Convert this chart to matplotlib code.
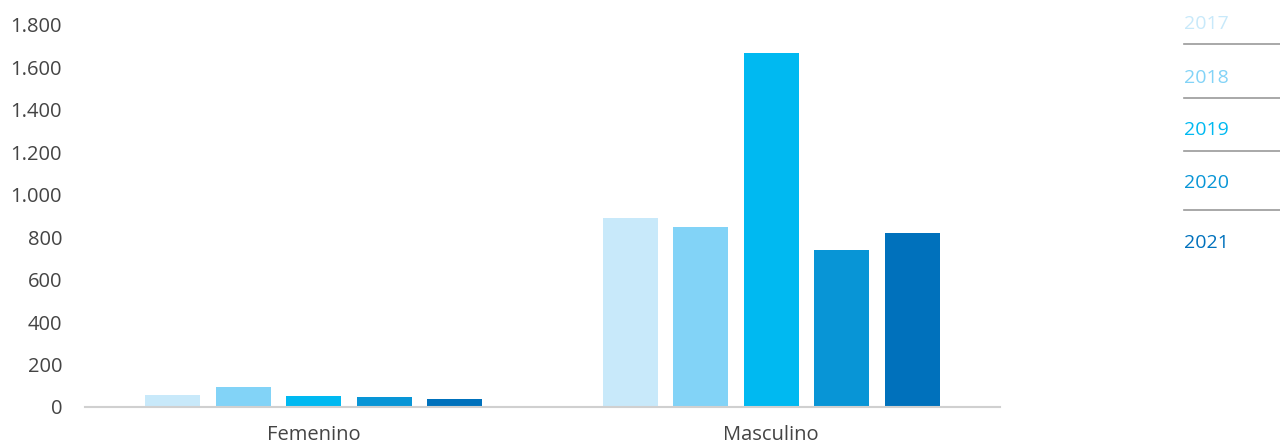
import numpy as np
import matplotlib
matplotlib.use("Agg")
import matplotlib.pyplot as plt
from matplotlib.lines import Line2D

plt.rcParams["font.family"] = ["Open Sans", "DejaVu Sans"]

# Data
categories = ["Femenino", "Masculino"]
years = ["2017", "2018", "2019", "2020", "2021"]
values = {
    "2017": [57, 890],
    "2018": [94, 848],
    "2019": [52, 1668],
    "2020": [49, 738],
    "2021": [38, 820],
}
colors = ["#C8E9FA", "#82D3F7", "#00B9F1", "#0895D6", "#0071BC"]
yticks = [0, 200, 400, 600, 800, 1000, 1200, 1400, 1600, 1800]
ytick_labels = ["0", "200", "400", "600", "800", "1.000", "1.200", "1.400", "1.600", "1.800"]

text_color = "#444444"

fig = plt.figure(figsize=(12.8, 4.45), dpi=100)
ax = fig.add_axes([85 / 1280, 1 - 407 / 445, (1000 - 85) / 1280, (407 - 25) / 445])

x = np.arange(len(categories))
step = 0.154
width = 0.12
for i, yr in enumerate(years):
    ax.bar(x + (i - 2) * step, values[yr], width=width, color=colors[i], zorder=2)

ax.set_xlim(-0.5, 1.5)
ax.set_ylim(0, 1800)
ax.set_yticks(yticks)
ax.set_yticklabels(ytick_labels)
ax.set_xticks(x)
ax.set_xticklabels(categories)

for s in ["top", "right", "left"]:
    ax.spines[s].set_visible(False)
ax.spines["bottom"].set_color("#D0D0D0")
ax.spines["bottom"].set_linewidth(1.5)
ax.tick_params(axis="both", length=0, labelsize=14.5, labelcolor=text_color)
ax.tick_params(axis="y", pad=16.5)
ax.tick_params(axis="x", pad=13)

# Legend on the right
leg_y = [24, 78, 130, 183, 243]
line_y = [44, 98, 151, 210]
for i, yr in enumerate(years):
    fig.text(1184 / 1280, 1 - leg_y[i] / 445, yr, color=colors[i], fontsize=14,
             ha="left", va="center")
for ly in line_y:
    fig.add_artist(Line2D([1184 / 1280, 1.0], [1 - ly / 445, 1 - ly / 445],
                          color="#999999", linewidth=1.2, transform=fig.transFigure))

fig.savefig("out.png", dpi=100)
